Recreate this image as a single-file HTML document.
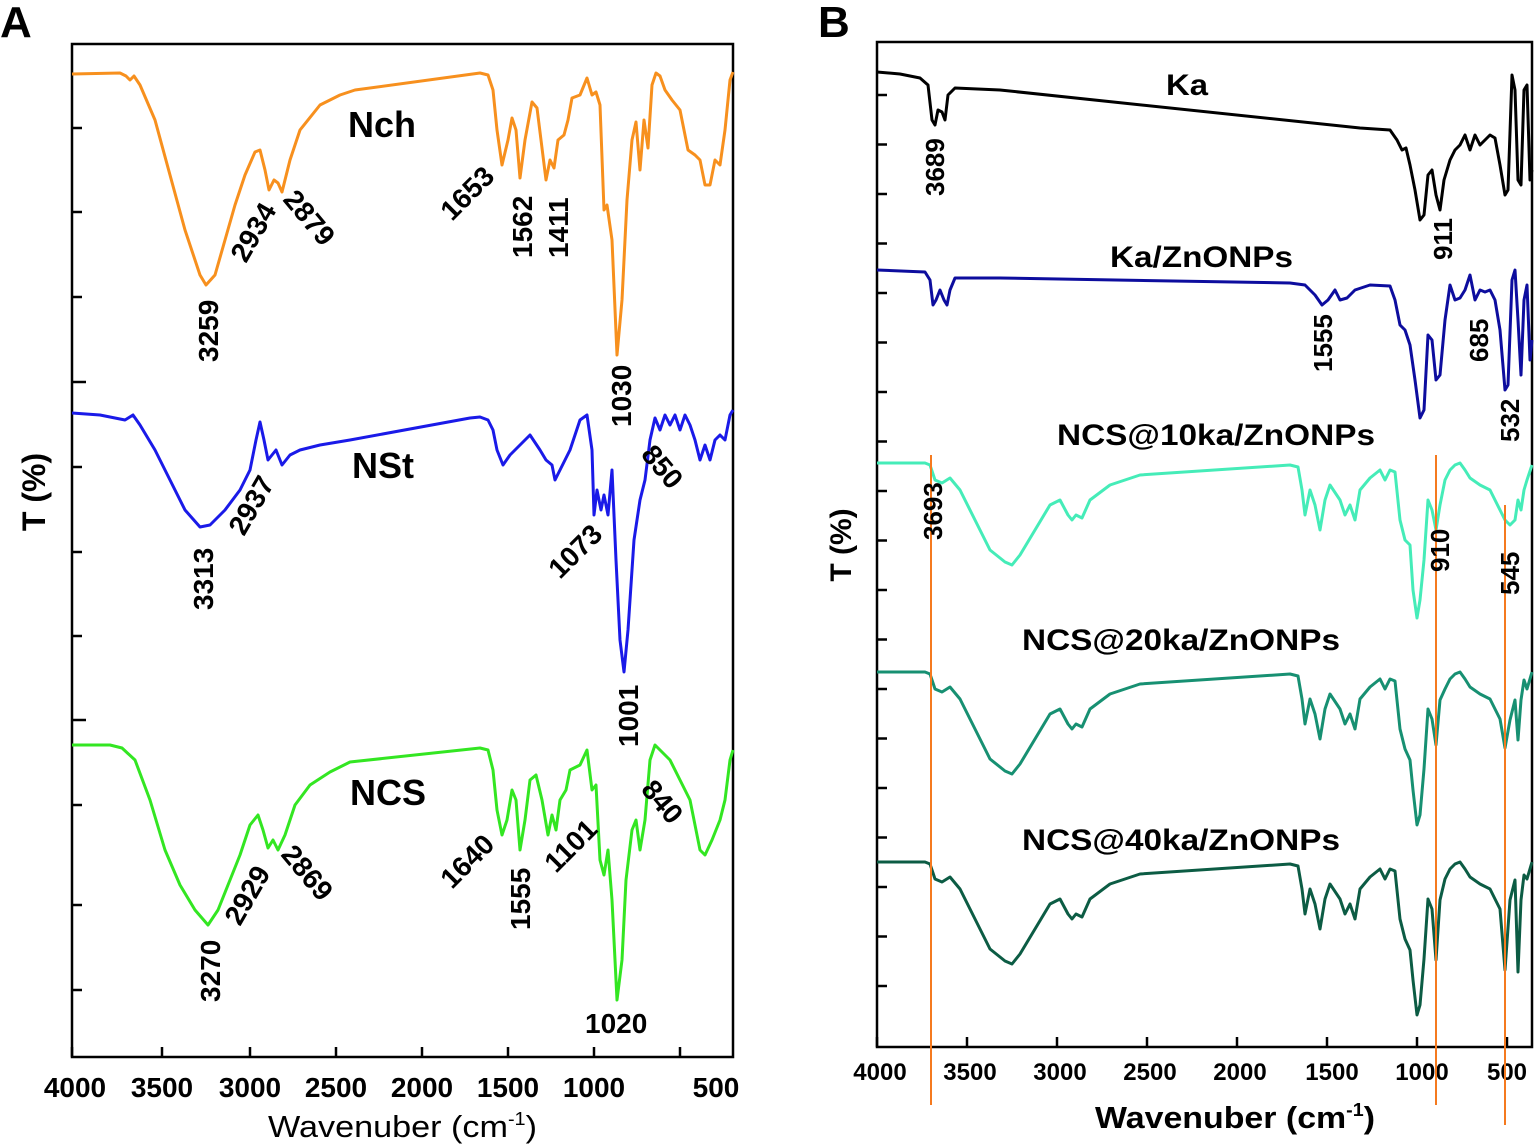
<!DOCTYPE html>
<html><head><meta charset="utf-8"><style>
html,body{margin:0;padding:0;background:#fff;overflow:hidden;}
svg{display:block;font-family:"Liberation Sans",Arial,sans-serif;}
</style></head><body>
<svg id="s" width="1535" height="1145" viewBox="0 0 1535 1145" xmlns="http://www.w3.org/2000/svg">
<rect x="0" y="0" width="1535" height="1145" fill="#fff"/>
<rect x="72" y="44" width="661" height="1013" fill="none" stroke="#000" stroke-width="2.5"/>
<g id="ticksA" stroke="#000" stroke-width="2.5"></g>
<g font-size="28" text-anchor="middle" font-weight="bold">
<text x="75" y="1097">4000</text><text x="162" y="1097">3500</text><text x="250" y="1097">3000</text><text x="336" y="1097">2500</text><text x="422" y="1097">2000</text><text x="508" y="1097">1500</text><text x="594" y="1097">1000</text><text x="716" y="1097">500</text>
</g>
<text x="268" y="1137" font-size="31" textLength="269" lengthAdjust="spacingAndGlyphs">Wavenuber (cm<tspan dy="-12" font-size="18">-1</tspan><tspan dy="12">)</tspan></text>
<text transform="translate(45,492) rotate(-90)" font-size="32" font-weight="bold" text-anchor="middle">T (%)</text>
<text x="0" y="37" font-size="44" font-weight="bold">A</text>

<rect x="877" y="42" width="655" height="1005" fill="none" stroke="#000" stroke-width="2.5"/>
<g id="ticksB" stroke="#000" stroke-width="2.5"></g>
<g font-size="24" font-weight="bold" text-anchor="middle">
<text x="880" y="1080">4000</text><text x="970" y="1080">3500</text><text x="1060" y="1080">3000</text><text x="1150" y="1080">2500</text><text x="1240" y="1080">2000</text><text x="1332" y="1080">1500</text><text x="1422" y="1080">1000</text><text x="1507" y="1080">500</text>
</g>
<text x="1095" y="1128" font-size="31" font-weight="bold" textLength="280" lengthAdjust="spacingAndGlyphs">Wavenuber (cm<tspan dy="-12" font-size="18">-1</tspan><tspan dy="12">)</tspan></text>
<text transform="translate(851,545) rotate(-90)" font-size="30" font-weight="bold" text-anchor="middle">T (%)</text>
<text x="818" y="37" font-size="44" font-weight="bold">B</text>

<g id="curves" fill="none" stroke-width="3" stroke-linejoin="round"></g>

<g stroke="#f57a1f" stroke-width="2">
<line x1="931" y1="455" x2="931" y2="1105"/>
<line x1="1436" y1="455" x2="1436" y2="1105"/>
<line x1="1505" y1="505" x2="1505" y2="1125"/>
</g>

<g font-weight="bold" font-size="28" fill="#000">
<text x="348" y="137" font-size="36">Nch</text>
<text x="352" y="478" font-size="36">NSt</text>
<text x="350" y="805" font-size="36">NCS</text>
<text transform="translate(218,362) rotate(-90)">3259</text>
<text transform="translate(246,264) rotate(-60)">2934</text>
<text transform="translate(282,200) rotate(50)">2879</text>
<text transform="translate(452,222) rotate(-45)">1653</text>
<text transform="translate(532,258) rotate(-90)">1562</text>
<text transform="translate(568,258) rotate(-90)">1411</text>
<text transform="translate(631,427) rotate(-90)">1030</text>
<text transform="translate(213,610) rotate(-90)">3313</text>
<text transform="translate(244,537) rotate(-60)">2937</text>
<text transform="translate(640,455) rotate(50)">850</text>
<text transform="translate(560,580) rotate(-45)">1073</text>
<text transform="translate(638,747) rotate(-90)">1001</text>
<text transform="translate(240,927) rotate(-60)">2929</text>
<text transform="translate(280,855) rotate(50)">2869</text>
<text transform="translate(452,890) rotate(-45)">1640</text>
<text transform="translate(530,930) rotate(-90)">1555</text>
<text transform="translate(556,874) rotate(-45)">1101</text>
<text transform="translate(640,790) rotate(50)">840</text>
<text transform="translate(220,1002) rotate(-90)">3270</text>
<text x="585" y="1033">1020</text>
</g>
<g font-weight="bold" font-size="26" fill="#000">
<text x="1166" y="95" font-size="30" textLength="42" lengthAdjust="spacingAndGlyphs">Ka</text>
<text x="1110" y="267" font-size="30" textLength="183" lengthAdjust="spacingAndGlyphs">Ka/ZnONPs</text>
<text x="1057" y="445" font-size="30" textLength="318" lengthAdjust="spacingAndGlyphs">NCS@10ka/ZnONPs</text>
<text x="1022" y="650" font-size="30" textLength="318" lengthAdjust="spacingAndGlyphs">NCS@20ka/ZnONPs</text>
<text x="1022" y="850" font-size="30" textLength="318" lengthAdjust="spacingAndGlyphs">NCS@40ka/ZnONPs</text>
<text transform="translate(944,196) rotate(-90)">3689</text>
<text transform="translate(1452,260) rotate(-90)">911</text>
<text transform="translate(1332,372) rotate(-90)">1555</text>
<text transform="translate(1488,362) rotate(-90)">685</text>
<text transform="translate(1519,442) rotate(-90)">532</text>
<text transform="translate(942,540) rotate(-90)">3693</text>
<text transform="translate(1449,572) rotate(-90)">910</text>
<text transform="translate(1519,595) rotate(-90)">545</text>
</g>
</svg>
<script>
var NS="http://www.w3.org/2000/svg";
function line(g,x1,y1,x2,y2){var l=document.createElementNS(NS,"line");l.setAttribute("x1",x1);l.setAttribute("y1",y1);l.setAttribute("x2",x2);l.setAttribute("y2",y2);g.appendChild(l);}
var tA=document.getElementById("ticksA");
[128,212,297,382,467,552,636,720,805,905,990].forEach(function(y){var L=(y==382||y==720)?14:10;line(tA,72,y,72+L,y);});
[72,162,250,336,422,508,594,680].forEach(function(x){line(tA,x,1057,x,1047);});
var tB=document.getElementById("ticksB");
for(var y=95;y<1030;y+=49.5){line(tB,877,y,887,y);}
[877,967,1057,1147,1237,1327,1417,1507].forEach(function(x){line(tB,x,1047,x,1037);});
var cg=document.getElementById("curves");
function poly(pts,col,dy){var p=document.createElementNS(NS,"polyline");var s="";for(var i=0;i<pts.length;i+=2){s+=pts[i]+","+(pts[i+1]+(dy||0))+" ";}p.setAttribute("points",s);p.setAttribute("stroke",col);cg.appendChild(p);}
poly([72,74,120,73,126,76,130,80,134,76,140,85,155,120,170,175,185,230,200,275,206,285,215,275,225,240,235,205,245,175,255,152,260,150,265,170,269,190,274,180,278,183,282,192,290,160,300,130,320,105,340,95,355,90,480,73,488,75,493,90,497,130,502,165,508,140,512,118,516,130,520,178,525,140,532,102,537,108,541,140,546,180,550,160,554,168,558,140,564,135,568,120,572,98,580,95,587,78,592,95,596,92,600,105,604,210,607,205,612,240,617,355,622,300,627,200,632,140,636,122,640,170,644,120,648,148,652,85,656,73,660,76,665,90,672,100,680,110,688,150,695,155,700,160,705,185,710,185,715,160,720,165,725,130,730,80,733,72],"#f7901e");
poly([72,413,100,415,125,420,133,415,140,425,155,450,170,480,185,510,200,527,210,525,225,510,240,490,250,470,256,440,260,422,264,440,268,460,272,455,276,450,282,465,290,455,300,450,320,445,350,440,470,418,480,417,488,420,493,430,497,450,503,465,510,455,520,445,530,435,540,450,546,460,552,465,555,480,560,470,570,450,580,420,587,415,592,450,594,515,597,490,601,510,604,495,608,515,612,470,616,560,620,640,624,672,628,630,634,540,640,500,645,480,650,440,655,418,660,430,665,415,670,425,675,415,680,430,685,415,690,425,695,440,700,460,705,445,710,460,715,440,720,435,725,440,730,415,733,410],"#1a1ae8");
poly([72,745,110,745,122,748,135,760,150,800,165,850,180,885,195,910,208,925,218,910,230,880,240,855,250,825,258,815,263,830,268,848,273,840,278,850,285,835,295,805,310,785,330,772,350,762,480,748,488,750,493,770,497,810,502,835,507,820,512,790,516,800,520,850,525,820,530,780,536,775,542,800,548,835,552,815,556,830,560,800,566,790,570,770,580,765,587,750,592,790,596,785,600,860,604,875,608,850,612,900,617,1000,622,960,626,880,632,830,636,820,640,850,645,820,650,760,655,745,660,750,670,760,680,780,690,800,700,850,705,855,712,840,720,820,725,800,730,760,733,750],"#33e622");
poly([877,72,900,74,920,78,928,85,932,120,935,125,938,110,942,112,945,120,948,95,955,88,1000,90,1360,128,1390,130,1397,140,1402,150,1406,148,1410,165,1415,190,1420,220,1424,215,1428,175,1432,170,1436,195,1440,210,1444,180,1450,160,1455,150,1460,145,1465,135,1470,150,1475,135,1480,145,1485,140,1490,135,1495,138,1500,165,1505,195,1508,190,1512,75,1515,90,1518,180,1521,185,1524,90,1527,85,1530,180,1532,170],"#000");
poly([877,270,925,272,930,280,933,305,936,300,940,290,944,300,947,305,950,290,955,278,1000,278,1290,283,1305,285,1315,295,1322,305,1328,300,1335,290,1340,300,1347,298,1355,290,1370,285,1390,286,1395,300,1400,325,1405,330,1410,345,1415,380,1420,418,1424,410,1428,335,1432,340,1436,380,1440,375,1445,320,1450,285,1455,300,1460,298,1465,290,1470,275,1475,300,1480,290,1485,292,1490,290,1495,300,1500,330,1505,390,1508,385,1512,280,1515,270,1518,320,1521,375,1524,300,1527,285,1530,360,1532,340],"#0d0d9e");
var ncs=[877,463,925,463,930,465,935,480,942,483,950,478,960,490,975,520,990,550,1005,562,1012,565,1020,555,1035,530,1050,505,1060,500,1068,515,1072,520,1076,515,1082,518,1090,500,1110,485,1140,475,1290,465,1298,467,1302,490,1305,515,1310,490,1315,505,1320,530,1325,500,1330,485,1340,500,1345,515,1350,505,1355,520,1360,490,1370,478,1380,470,1385,480,1390,470,1395,472,1400,520,1405,540,1410,545,1413,590,1417,618,1420,600,1424,560,1428,500,1432,510,1436,530,1440,505,1445,480,1450,470,1455,465,1460,463,1465,470,1470,478,1480,485,1490,490,1495,500,1500,510,1505,520,1510,525,1515,520,1518,500,1521,510,1524,490,1527,480,1532,465];
poly(ncs,"#45ecb8",0);
function mod(arr,extra,dy){var a=arr.slice();for(var i=0;i<a.length;i+=2){var x=a[i];if(extra[x]!==undefined)a[i+1]=extra[x]-dy;}return a;}
poly(mod(ncs,{1410:760,1413:790,1417:825,1420:815,1436:745,1440:700,1505:748,1508:745,1510:720,1515:700,1518:740,1521:700,1524:680,1532:672},209),"#179072",209);
poly(mod(ncs,{1410:950,1413:980,1417:1015,1420:1005,1436:960,1440:900,1505:970,1508:965,1510:900,1515:880,1518:972,1521:900,1524:875,1532:862},399),"#0c5c44",399);
</script>
</body></html>
